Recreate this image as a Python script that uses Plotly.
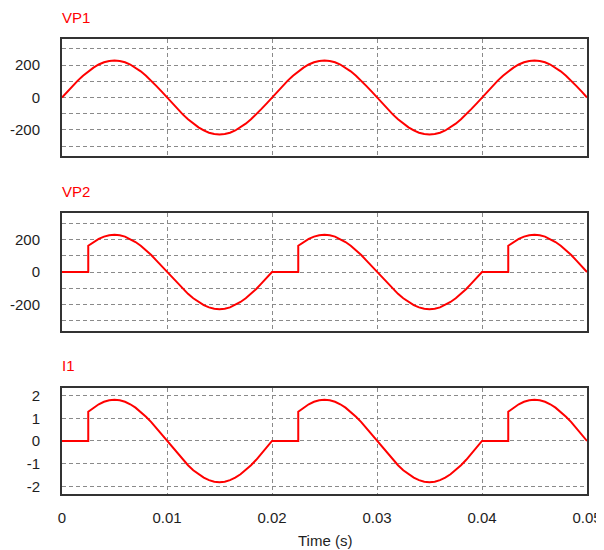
import plotly.graph_objects as go
from plotly.subplots import make_subplots

# ---- data (time in ms) ----
t_ms = [0, 0.5, 1, 1.5, 2, 2.5, 3, 3.5, 4, 4.5, 5, 5.5, 6, 6.5, 7, 7.5, 8, 8.5, 9, 9.5,
        10, 10.5, 11, 11.5, 12, 12.5, 13, 13.5, 14, 14.5, 15, 15.5, 16, 16.5, 17, 17.5, 18, 18.5, 19, 19.5,
        20, 20.5, 21, 21.5, 22, 22.5, 23, 23.5, 24, 24.5, 25, 25.5, 26, 26.5, 27, 27.5, 28, 28.5, 29, 29.5,
        30, 30.5, 31, 31.5, 32, 32.5, 33, 33.5, 34, 34.5, 35, 35.5, 36, 36.5, 37, 37.5, 38, 38.5, 39, 39.5,
        40, 40.5, 41, 41.5, 42, 42.5, 43, 43.5, 44, 44.5, 45, 45.5, 46, 46.5, 47, 47.5, 48, 48.5, 49, 49.5, 50]

vp1 = [0, 36, 70, 104, 134, 161, 184, 203, 217, 225, 228, 225, 217, 203, 184, 161, 134, 104, 70, 36,
       0, -36, -70, -104, -134, -161, -184, -203, -217, -225, -228, -225, -217, -203, -184, -161, -134, -104, -70, -36,
       0, 36, 70, 104, 134, 161, 184, 203, 217, 225, 228, 225, 217, 203, 184, 161, 134, 104, 70, 36,
       0, -36, -70, -104, -134, -161, -184, -203, -217, -225, -228, -225, -217, -203, -184, -161, -134, -104, -70, -36,
       0, 36, 70, 104, 134, 161, 184, 203, 217, 225, 228, 225, 217, 203, 184, 161, 134, 104, 70, 36, 0]

# controlled waveforms: firing instants appear twice (vertical step)
t2_ms = [0, 0.5, 1, 1.5, 2, 2.5, 2.5, 3, 3.5, 4, 4.5, 5, 5.5, 6, 6.5, 7, 7.5, 8, 8.5, 9, 9.5,
         10, 10.5, 11, 11.5, 12, 12.5, 13, 13.5, 14, 14.5, 15, 15.5, 16, 16.5, 17, 17.5, 18, 18.5, 19, 19.5,
         20, 20.5, 21, 21.5, 22, 22.5, 22.5, 23, 23.5, 24, 24.5, 25, 25.5, 26, 26.5, 27, 27.5, 28, 28.5, 29, 29.5,
         30, 30.5, 31, 31.5, 32, 32.5, 33, 33.5, 34, 34.5, 35, 35.5, 36, 36.5, 37, 37.5, 38, 38.5, 39, 39.5,
         40, 40.5, 41, 41.5, 42, 42.5, 42.5, 43, 43.5, 44, 44.5, 45, 45.5, 46, 46.5, 47, 47.5, 48, 48.5, 49, 49.5, 50]

vp2 = [0, 0, 0, 0, 0, 0, 161, 184, 203, 217, 225, 228, 225, 217, 203, 184, 161, 134, 104, 70, 36,
       0, -36, -70, -104, -134, -161, -184, -203, -217, -225, -228, -225, -217, -203, -184, -161, -134, -104, -70, -36,
       0, 0, 0, 0, 0, 0, 161, 184, 203, 217, 225, 228, 225, 217, 203, 184, 161, 134, 104, 70, 36,
       0, -36, -70, -104, -134, -161, -184, -203, -217, -225, -228, -225, -217, -203, -184, -161, -134, -104, -70, -36,
       0, 0, 0, 0, 0, 0, 161, 184, 203, 217, 225, 228, 225, 217, 203, 184, 161, 134, 104, 70, 36, 0]

i1 = [0, 0, 0, 0, 0, 0, 1.29, 1.47, 1.62, 1.73, 1.80, 1.82, 1.80, 1.73, 1.62, 1.47, 1.29, 1.07, 0.83, 0.56, 0.28,
      0, -0.28, -0.56, -0.83, -1.07, -1.29, -1.47, -1.62, -1.73, -1.80, -1.82, -1.80, -1.73, -1.62, -1.47, -1.29, -1.07, -0.83, -0.56, -0.28,
      0, 0, 0, 0, 0, 0, 1.29, 1.47, 1.62, 1.73, 1.80, 1.82, 1.80, 1.73, 1.62, 1.47, 1.29, 1.07, 0.83, 0.56, 0.28,
      0, -0.28, -0.56, -0.83, -1.07, -1.29, -1.47, -1.62, -1.73, -1.80, -1.82, -1.80, -1.73, -1.62, -1.47, -1.29, -1.07, -0.83, -0.56, -0.28,
      0, 0, 0, 0, 0, 0, 1.29, 1.47, 1.62, 1.73, 1.80, 1.82, 1.80, 1.73, 1.62, 1.47, 1.29, 1.07, 0.83, 0.56, 0.28, 0]

panel_titles = ["VP1", "VP2", "I1"]
x_tickvals = [0, 0.01, 0.02, 0.03, 0.04, 0.05]
x_ticktext = ["0", "0.01", "0.02", "0.03", "0.04", "0.05"]
v_tickvals = [-300, -200, -100, 0, 100, 200, 300]
v_ticktext = ["", "-200", "", "0", "", "200", ""]
i_tickvals = [-2, -1, 0, 1, 2]
i_ticktext = ["-2", "-1", "0", "1", "2"]
x_title = "Time (s)"

t_s = [v / 1000 for v in t_ms]
t2_s = [v / 1000 for v in t2_ms]

FONT = "Liberation Sans, Arial, sans-serif"
RED = "#ff0000"
GRID = "#8a8a8a"
BORDER = "#333333"
TXT = "#1e1e1e"

fig = make_subplots(rows=3, cols=1, shared_xaxes=True)
fig.add_trace(go.Scatter(x=t_s, y=vp1, mode="lines", line=dict(color=RED, width=2)), row=1, col=1)
fig.add_trace(go.Scatter(x=t2_s, y=vp2, mode="lines", line=dict(color=RED, width=2)), row=2, col=1)
fig.add_trace(go.Scatter(x=t2_s, y=i1, mode="lines", line=dict(color=RED, width=2)), row=3, col=1)

domains = [[0.7429, 1.0], [0.3589, 0.6169], [0.0, 0.2336]]
yranges = [[-360, 360], [-360, 360], [-2.34, 2.35]]

common_axis = dict(showline=True, linecolor=BORDER, linewidth=2, mirror=True,
                   showgrid=True, gridcolor=GRID, gridwidth=1, griddash="4px,3px",
                   zeroline=False, ticks="", automargin=False,
                   tickfont=dict(family=FONT, size=15, color=TXT))

for r in range(3):
    yname = "yaxis" if r == 0 else f"yaxis{r+1}"
    xname = "xaxis" if r == 0 else f"xaxis{r+1}"
    tv, tt = (v_tickvals, v_ticktext) if r < 2 else (i_tickvals, i_ticktext)
    fig.layout[yname].update(domain=domains[r], range=yranges[r], tickmode="array",
                             tickvals=tv, ticktext=tt, ticklabelstandoff=17, **common_axis)
    fig.layout[xname].update(range=[0, 0.05], tickmode="array", tickvals=x_tickvals,
                             ticktext=x_ticktext, showticklabels=(r == 2),
                             ticklabelstandoff=9, **common_axis)

annotations = []
for r in range(3):
    annotations.append(dict(text=panel_titles[r], xref="paper", yref="paper", x=0, y=domains[r][1],
                            xanchor="left", yanchor="middle", yshift=22, xshift=-2, showarrow=False,
                            font=dict(family=FONT, size=15, color=RED)))
annotations.append(dict(text=x_title, xref="paper", yref="paper", x=0.5, y=0, xanchor="center",
                        yanchor="middle", yshift=-46, showarrow=False,
                        font=dict(family=FONT, size=15, color=TXT)))

# page body has an 8px default margin, so the figure is offset by 8px
fig.update_layout(width=596, height=542, margin=dict(l=54, r=17, t=31, b=56, autoexpand=False),
                  paper_bgcolor="white", plot_bgcolor="white", showlegend=False,
                  annotations=annotations)

fig.write_html("out.html")
